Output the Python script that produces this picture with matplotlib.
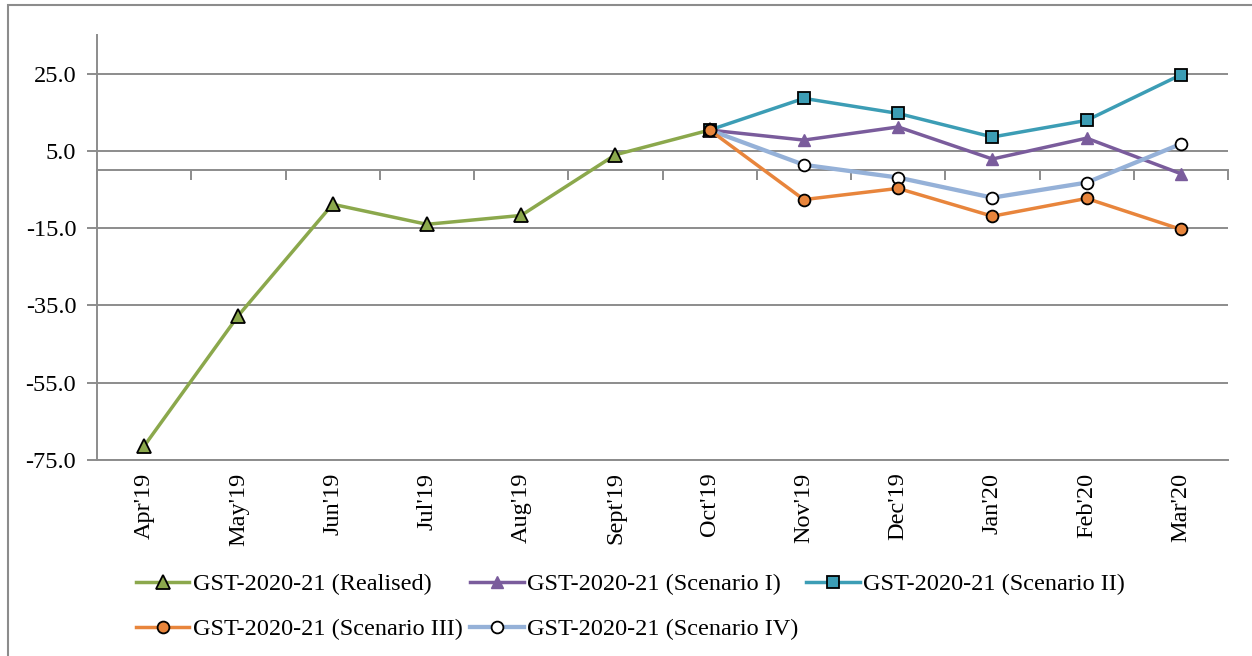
import matplotlib
matplotlib.use("Agg")
import matplotlib.pyplot as plt
from matplotlib.patches import Rectangle
from matplotlib.ticker import FixedLocator, FuncFormatter

plt.rcParams['font.family'] = ['Liberation Serif', 'DejaVu Serif']
plt.rcParams['axes.unicode_minus'] = False

months = ["Apr'19", "May'19", "Jun'19", "Jul'19", "Aug'19", "Sept'19", "Oct'19",
          "Nov'19", "Dec'19", "Jan'20", "Feb'20", "Mar'20"]
realised = [-71.4, -37.6, -8.8, -14.0, -11.7, 4.0, 10.4]
scen1 = [10.4, 7.8, 11.2, 2.9, 8.3, -0.9]
scen2 = [10.4, 18.6, 14.7, 8.6, 12.9, 24.7]
scen3 = [10.4, -7.6, -4.7, -11.9, -7.3, -15.3]
scen4 = [10.4, 1.4, -1.9, -7.1, -3.2, 6.8]
yticks = [-75, -55, -35, -15, 5, 25]

FS = 17.5
GRID = '#8c8c8c'

fig = plt.figure(figsize=(12.52, 6.56), dpi=100)
fig.patches.append(Rectangle((8/1252, -0.05), 1.2, 1 - 5/656 + 0.05,
                             transform=fig.transFigure, fill=False,
                             edgecolor=GRID, linewidth=1.5))
ax = fig.add_axes([97/1252, 1-460/656, (1228-97)/1252, (460-35)/656])

x_all = list(range(len(months)))
x_real = x_all[:len(realised)]
x_scen = x_all[6:6+len(scen1)]

lw = 2.5
ms = 9
ln_r, = ax.plot(x_real, realised, color='#8BA84C', lw=lw, marker='^', ms=ms+1,
                mfc='#8BA84C', mec='black', mew=1.3, zorder=3,
                label='GST-2020-21 (Realised)')
ln_1, = ax.plot(x_scen, scen1, color='#7A5C9C', lw=lw, marker='^', ms=ms,
                mfc='#7A5C9C', mec='#7A5C9C', zorder=3,
                label='GST-2020-21 (Scenario I)')
ln_2, = ax.plot(x_scen, scen2, color='#3C9DB5', lw=lw, marker='s', ms=ms-0.5,
                mfc='#3C9DB5', mec='black', mew=1.3, zorder=3,
                label='GST-2020-21 (Scenario II)')
ln_4, = ax.plot(x_scen, scen4, color='#95B1D8', lw=lw+0.6, marker='o', ms=ms-0.5,
                mfc='white', mec='black', mew=1.3, zorder=3,
                label='GST-2020-21 (Scenario IV)')
ln_3, = ax.plot(x_scen, scen3, color='#E8853C', lw=lw, marker='o', ms=ms-0.5,
                mfc='#E8853C', mec='black', mew=1.3, zorder=4,
                label='GST-2020-21 (Scenario III)')

ax.set_xlim(-0.5, len(months) - 0.5)
ax.set_ylim(-75, 35)
ax.yaxis.set_major_locator(FixedLocator(yticks))
ax.yaxis.set_major_formatter(FuncFormatter(lambda v, p: f"{v:.1f}"))
ax.grid(axis='y', color=GRID, lw=1.4)
ax.set_axisbelow(True)
for s in ['top', 'right']:
    ax.spines[s].set_visible(False)
ax.spines['left'].set_color(GRID)
ax.spines['left'].set_linewidth(1.4)
ax.spines['bottom'].set_color(GRID)
ax.spines['bottom'].set_linewidth(1.4)
ax.tick_params(axis='y', length=7, width=1.4, color=GRID, labelsize=FS, pad=8)
ax.set_xticks(x_all)
ax.set_xticklabels(months, rotation=90, fontsize=FS)
ax.tick_params(axis='x', length=0, pad=9)

# category axis crossing at zero
y0, y1 = ax.get_ylim()
loc = (0 - y0) / (y1 - y0)
sec = ax.secondary_xaxis(loc)
sec.set_xticks([i + 0.5 for i in x_all] + [-0.5])
sec.set_xticklabels([])
sec.tick_params(length=7, width=1.4, color=GRID, direction='in')
for s in sec.spines.values():
    s.set_color(GRID)
    s.set_linewidth(1.4)

handles = [ln_r, ln_3, ln_1, ln_4, ln_2]
leg = fig.legend(handles=handles, labels=[h.get_label() for h in handles],
                 loc='upper left', bbox_to_anchor=(136/1252, 1-573/656), ncol=3,
                 frameon=False, fontsize=FS, handlelength=2.2, handletextpad=0.15,
                 columnspacing=0.3, labelspacing=0.95, borderaxespad=0,
                 borderpad=0)

fig.savefig('out.png', dpi=100)
